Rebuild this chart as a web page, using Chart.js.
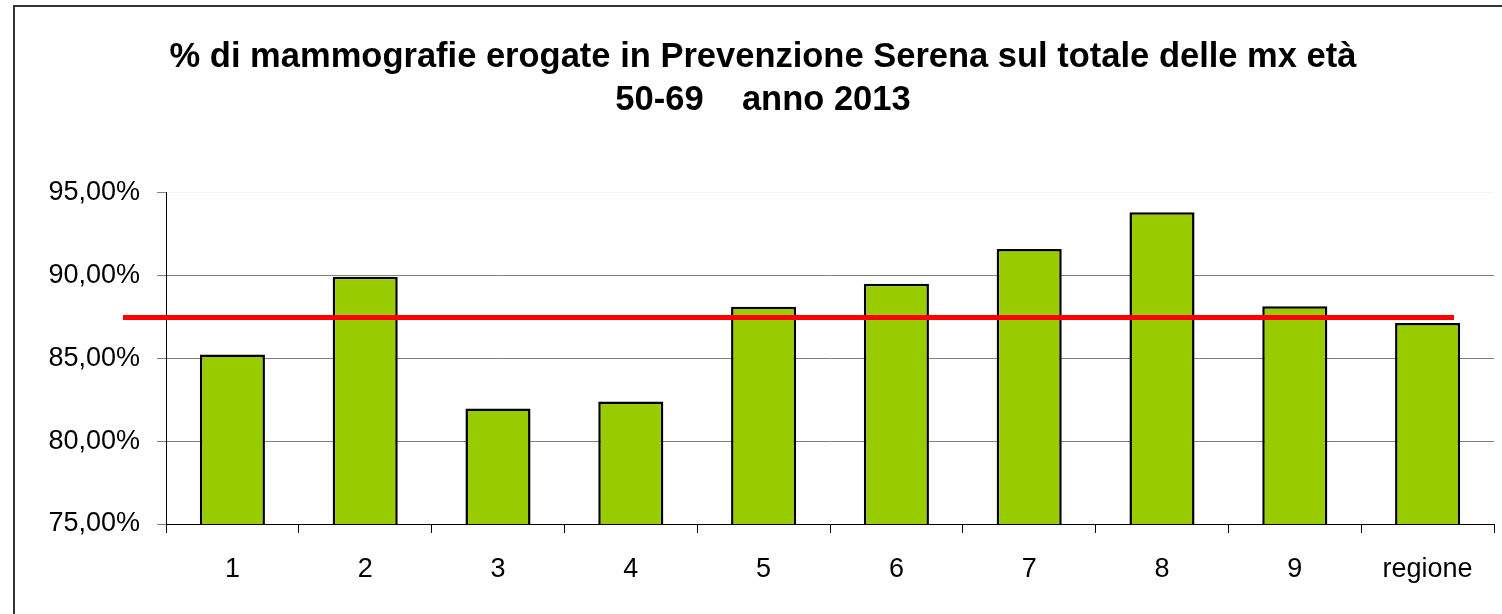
<!DOCTYPE html>
<html>
<head>
<meta charset="utf-8">
<script src="https://cdn.jsdelivr.net/npm/chart.js@4/dist/chart.umd.min.js"></script>
<style>
    body { margin: 0; background: #fff; overflow: hidden; }
    .frame { position: absolute; left: 13px; top: 5px; width: 1600px; height: 700px; border: 2px solid #333; box-sizing: border-box; }
    .wrap { position: absolute; left: 0; top: 0; width: 1502px; height: 614px; }
</style>
</head>
<body>
<div class="frame"></div>
<div class="wrap"><canvas id="chart"></canvas></div>
<script>
const categories = ['1', '2', '3', '4', '5', '6', '7', '8', '9', 'regione'];
const percentages = [85.22, 89.90, 81.97, 82.39, 88.10, 89.48, 91.58, 93.80, 88.12, 87.12];
const average = 87.45;
const yTicks = [75, 80, 85, 90, 95];

// red reference line, drawn over the bars
const averageLine = {
    id: 'averageLine',
    afterDatasetsDraw(chart) {
        const ctx = chart.ctx;
        const area = chart.chartArea;
        const y = chart.scales.y.getPixelForValue(average);
        ctx.save();
        ctx.strokeStyle = '#ff0000';
        ctx.lineWidth = 5;
        ctx.beginPath();
        ctx.moveTo(area.left - 43, y);
        ctx.lineTo(area.right - 40, y);
        ctx.stroke();
        ctx.restore();
    }
};

const data = {
    labels: categories,
    datasets: [{
        data: percentages,
        backgroundColor: '#99cc00',
        borderColor: '#000000',
        borderWidth: 2.5,
        borderSkipped: 'bottom',
        barPercentage: 0.49,
        categoryPercentage: 1
    }]
};

const config = {
    type: 'bar',
    data: data,
    plugins: [averageLine],
    options: {
        responsive: false,
        animation: false,
        devicePixelRatio: 1,
        layout: { padding: { left: 32, right: 8, top: 5, bottom: 0 } },
        plugins: {
            legend: { display: false },
            tooltip: { enabled: false },
            title: {
                display: true,
                text: ['% di mammografie erogate in Prevenzione Serena sul totale delle mx età', '50-69    anno 2013'],
                color: '#000',
                font: { family: 'Liberation Sans', size: 34.5, weight: 'bold', lineHeight: 1.25 },
                padding: { top: 31, bottom: 70 }
            }
        },
        scales: {
            x: {
                grid: { display: true, drawOnChartArea: false, color: '#000', tickLength: 9, offset: true },
                border: { color: '#000', width: 1 },
                ticks: { color: '#000', font: { family: 'Liberation Sans', size: 27 }, padding: 20, maxRotation: 0 },
                afterFit(scale) { scale.height = 90; }
            },
            y: {
                min: 75,
                max: 95,
                afterBuildTicks(scale) { scale.ticks = yTicks.map(v => ({ value: v })); },
                grid: {
                    color: ctx => ctx.tick && ctx.tick.value === 95 ? 'rgba(0,0,0,0.03)' : '#808080',
                    tickColor: '#808080',
                    tickLength: 9
                },
                border: { color: '#000', width: 1 },
                ticks: {
                    color: '#000',
                    padding: 17,
                    font: { family: 'Liberation Sans', size: 27 },
                    callback: v => v.toFixed(2).replace('.', ',') + '%'
                },
                afterFit(scale) { scale.width = 134; }
            }
        }
    }
};

const canvas = document.getElementById('chart');
canvas.width = 1502;
canvas.height = 614;
new Chart(canvas.getContext('2d'), config);
</script>
</body>
</html>
